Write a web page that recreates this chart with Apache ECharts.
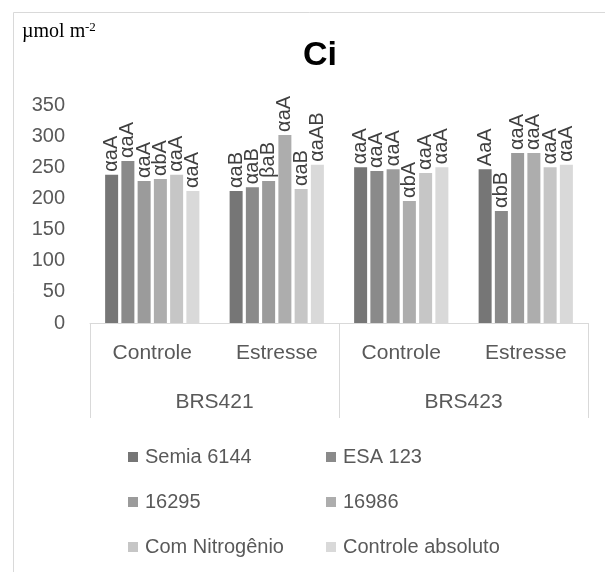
<!DOCTYPE html>
<html>
<head>
<meta charset="utf-8">
<script src="https://cdn.jsdelivr.net/npm/echarts@6/dist/echarts.min.js"></script>
<style>html,body{margin:0;padding:0;background:#fff;}#c{width:605px;height:572px;}</style>
</head>
<body>
<div id="c"></div>
<script>
const categories = ['Controle', 'Estresse', 'Controle', 'Estresse'];
const groups = ['BRS421', 'BRS423'];
const seriesNames = ['Semia 6144', 'ESA 123', '16295', '16986', 'Com Nitrogênio', 'Controle absoluto'];
const semia6144 = [238, 212, 250, 247];
const esa123 = [260, 218, 244, 180];
const s16295 = [228, 228, 247, 273];
const s16986 = [231, 302, 196, 273];
const comNitrogenio = [238, 215, 241, 250];
const controleAbsoluto = [212, 254, 250, 254];
const lblSemia = ['αaA', 'αaB', 'αaA', 'AaA'];
const lblEsa = ['αaA', 'αaB', 'αaA', 'αbB'];
const lbl16295 = ['αaA', 'βaB', 'αaA', 'αaA'];
const lbl16986 = ['αbA', 'αaA', 'αbA', 'αaA'];
const lblComN = ['αaA', 'αaB', 'αaA', 'αaA'];
const lblCtrlAbs = ['αaA', 'αaAB', 'αaA', 'αaA'];
const yTicks = [0, 50, 100, 150, 200, 250, 300, 350];

const values = [semia6144, esa123, s16295, s16986, comNitrogenio, controleAbsoluto];
const labels = [lblSemia, lblEsa, lbl16295, lbl16986, lblComN, lblCtrlAbs];
const colors = ['#767676', '#8a8a8a', '#9b9b9b', '#adadad', '#c6c6c6', '#d9d9d9'];
const FONT = '"Liberation Sans", Arial, sans-serif';

const chart = echarts.init(document.getElementById('c'));
chart.setOption({
  animation: false,
  backgroundColor: '#fff',
  graphic: [
    { type: 'rect', shape: { x: 13.5, y: 12.5, width: 700, height: 700 }, style: { fill: 'none', stroke: '#d9d9d9', lineWidth: 1 }, silent: true, z: -1 },
    { type: 'text', x: 320, y: 39, style: { text: 'Ci', font: 'bold 34px "Liberation Sans", Arial, sans-serif', fill: '#000', textAlign: 'center', textVerticalAlign: 'top' } },
    { type: 'text', x: 22, y: 42, style: { text: 'µmol m', font: '20px "Liberation Serif", "Times New Roman", serif', fill: '#000', textAlign: 'left', textVerticalAlign: 'bottom' } },
    { type: 'text', x: 85, y: 34, style: { text: '-2', font: '13px "Liberation Serif", "Times New Roman", serif', fill: '#000', textAlign: 'left', textVerticalAlign: 'bottom' } }
  ],
  legend: {
    data: seriesNames,
    left: 123, top: 435, width: 420,
    orient: 'horizontal',
    itemWidth: 10, itemHeight: 10, itemGap: 11,
    icon: 'rect',
    textStyle: { fontFamily: FONT, fontSize: 20, color: '#595959', width: 170, lineHeight: 34, padding: [0, 0, 0, 2] }
  },
  grid: { left: 90, right: 17, top: 105, bottom: 249, containLabel: false },
  xAxis: [
    {
      type: 'category', data: categories, position: 'bottom',
      axisLine: { show: true, lineStyle: { color: '#d9d9d9', width: 1 } },
      axisTick: { show: false },
      axisLabel: { fontFamily: FONT, fontSize: 21, color: '#595959', margin: 20, interval: 0 }
    },
    {
      type: 'category', data: groups, position: 'bottom', gridIndex: 0,
      axisLine: { show: false },
      axisTick: { show: true, length: 95, interval: 0, lineStyle: { color: '#d9d9d9', width: 1 } },
      axisLabel: { fontFamily: FONT, fontSize: 21, color: '#595959', margin: 69, interval: 0 },
      splitLine: { show: false }
    }
  ],
  yAxis: {
    type: 'value', min: 0, max: 350, interval: 50,
    axisLine: { show: false }, axisTick: { show: false }, splitLine: { show: false },
    axisLabel: { fontFamily: FONT, fontSize: 20, color: '#595959', margin: 25,
      formatter: v => (yTicks.indexOf(v) >= 0 ? String(v) : '') }
  },
  series: values.map((vals, i) => ({
    name: seriesNames[i], type: 'bar', xAxisIndex: 0, data: vals,
    barWidth: 13, barGap: '25%',
    itemStyle: { color: colors[i] },
    label: {
      show: true, position: 'top', rotate: 90, align: 'left', verticalAlign: 'middle', distance: 3,
      fontFamily: FONT, fontSize: 20, color: '#404040',
      formatter: p => labels[i][p.dataIndex]
    }
  }))
});
</script>
</body>
</html>
